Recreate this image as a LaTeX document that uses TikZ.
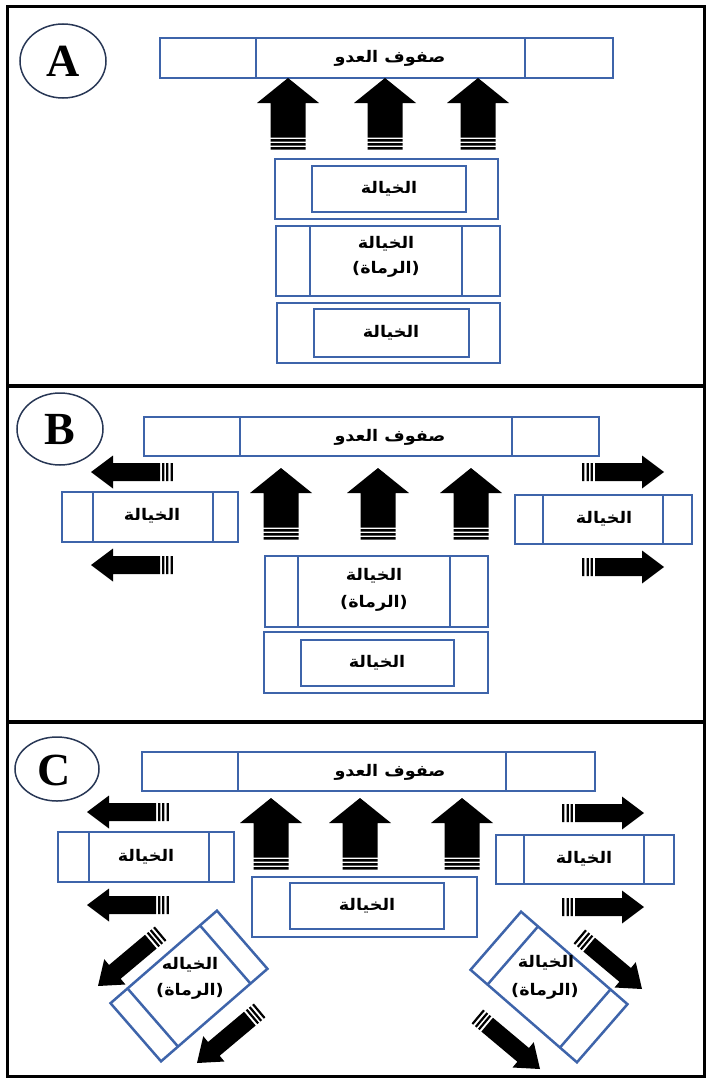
\documentclass[tikz,border=0pt]{standalone}
\usepackage{fontspec}
\newfontfamily\arabicfont[Script=Arabic,FakeStretch=1.1]{DejaVu Sans}
\newfontfamily\letterfont{Liberation Serif}
\TeXXeTstate=1
\definecolor{boxblue}{RGB}{62,100,170}
\definecolor{ringblue}{RGB}{40,55,85}
\newcommand{\artext}[1]{\beginR #1\endR}

\begin{document}
\begin{tikzpicture}[x=1pt,y=-1pt]

\tikzset{boxline/.style={draw=boxblue,line width=2.5pt},
unitbox/.style={boxline,fill=white},
armytext/.style={font=\arabicfont\bfseries\fontsize{16}{19}\selectfont,text=black,align=center,inner sep=0pt},
panelletter/.style={font=\letterfont\bfseries\fontsize{46}{46}\selectfont,inner sep=0pt},
%tip of the arrow sits at the origin, it points along +x
bigarr/.pic={
\fill (0,0) -- (-25,31) -- (-25,17.5) -- (-59.5,17.5) -- (-59.5,-17.5) -- (-25,-17.5) -- (-25,-31) -- cycle;
\fill (-61,-17.5) rectangle (-63.5,17.5) (-65,-17.5) rectangle (-67.5,17.5) (-69,-17.5) rectangle (-71.5,17.5);
},
smallarr/.pic={
\fill (0,0) -- (-22,16.5) -- (-22,9) -- (-69,9) -- (-69,-9) -- (-22,-9) -- (-22,-16.5) -- cycle;
\fill (-71.2,-9) rectangle (-73.4,9) (-75.2,-9) rectangle (-77.4,9) (-79.6,-9) rectangle (-81.8,9);
}}

\useasboundingbox (0,0) rectangle (707,1081);

% frame and panel borders
\draw [line width=3pt] (7,7) rectangle (704,1076);
\draw [line width=4pt] (7,386) -- (704,386);
\draw [line width=4pt] (7,722) -- (704,722);

%%%%% A
\draw [ringblue,line width=1.5pt] (63,61) ellipse [x radius=43, y radius=37];
\node [panelletter] (letA) at (63,61) {A};

\draw [unitbox] (160,38) rectangle (613,78);
\draw [boxline] (256,38) -- (256,78) (525,38) -- (525,78);
\node [armytext] (enemyA) at (390,58) {\artext{صفوف العدو}};

\pic [rotate=90] at (288,78) {bigarr};
\pic [rotate=90] at (385,78) {bigarr};
\pic [rotate=90] at (478,78) {bigarr};

\draw [unitbox] (275,159) rectangle (498,219);
\draw [boxline] (312,166) rectangle (466,212);
\node [armytext] (cavA1) at (389,189) {\artext{الخيالة}};

\draw [unitbox] (276,226) rectangle (500,296);
\draw [boxline] (310,226) -- (310,296) (462,226) -- (462,296);
\node [armytext] (cavA2) at (386,244) {\artext{الخيالة}};
\node [armytext] (archA) at (386,269) {\artext{(الرماة)}};

\draw [unitbox] (277,303) rectangle (500,363);
\draw [boxline] (314,309) rectangle (469,357);
\node [armytext] (cavA3) at (391,333) {\artext{الخيالة}};

%%%%% B
\draw [ringblue,line width=1.5pt] (60,429) ellipse [x radius=43, y radius=36];
\node [panelletter] (letB) at (60,430) {B};

\draw [unitbox] (144,417) rectangle (599,456);
\draw [boxline] (240,417) -- (240,456) (512,417) -- (512,456);
\node [armytext] (enemyB) at (390,437) {\artext{صفوف العدو}};

\pic [rotate=180] at (91,472) {smallarr};
\pic [rotate=180] at (91,565) {smallarr};
\pic at (664,472) {smallarr};
\pic at (664,567) {smallarr};

\pic [rotate=90] at (281,468) {bigarr};
\pic [rotate=90] at (378,468) {bigarr};
\pic [rotate=90] at (471,468) {bigarr};

\draw [unitbox] (62,492) rectangle (238,542);
\draw [boxline] (93,492) -- (93,542) (213,492) -- (213,542);
\node [armytext] (cavBl) at (152,516) {\artext{الخيالة}};

\draw [unitbox] (515,495) rectangle (692,544);
\draw [boxline] (543,495) -- (543,544) (663,495) -- (663,544);
\node [armytext] (cavBr) at (604,519) {\artext{الخيالة}};

\draw [unitbox] (265,556) rectangle (488,627);
\draw [boxline] (298,556) -- (298,627) (450,556) -- (450,627);
\node [armytext] (cavB2) at (374,576) {\artext{الخيالة}};
\node [armytext] (archB) at (374,603) {\artext{(الرماة)}};

\draw [unitbox] (264,632) rectangle (488,693);
\draw [boxline] (301,640) rectangle (454,686);
\node [armytext] (cavB3) at (377,663) {\artext{الخيالة}};

%%%%% C
\draw [ringblue,line width=1.5pt] (57,769) ellipse [x radius=42, y radius=32];
\node [panelletter] (letC) at (54,770) {C};

\draw [unitbox] (142,752) rectangle (595,791);
\draw [boxline] (238,752) -- (238,791) (506,752) -- (506,791);
\node [armytext] (enemyC) at (390,772) {\artext{صفوف العدو}};

\pic [rotate=180] at (87,812) {smallarr};
\pic [rotate=180] at (87,905) {smallarr};
\pic at (644,813) {smallarr};
\pic at (644,907) {smallarr};

\pic [rotate=90] at (271,798) {bigarr};
\pic [rotate=90] at (360,798) {bigarr};
\pic [rotate=90] at (462,798) {bigarr};

\draw [unitbox] (58,832) rectangle (234,882);
\draw [boxline] (89,832) -- (89,882) (209,832) -- (209,882);
\node [armytext] (cavCl) at (146,857) {\artext{الخيالة}};

\draw [unitbox] (496,835) rectangle (674,884);
\draw [boxline] (524,835) -- (524,884) (644,835) -- (644,884);
\node [armytext] (cavCr) at (584,859) {\artext{الخيالة}};

\draw [unitbox] (252,877) rectangle (477,937);
\draw [boxline] (290,883) rectangle (444,929);
\node [armytext] (cavC2) at (367,906) {\artext{الخيالة}};

% wings turning outwards
\pic [rotate=220] at (98,986) {smallarr};
\pic [rotate=220] at (197,1063) {smallarr};
\pic [rotate=-40] at (642,989) {smallarr};
\pic [rotate=-40] at (540,1069) {smallarr};

\begin{scope}[shift={(189,986)},rotate=41]
\draw [unitbox] (-70.5,-38.5) rectangle (70.5,38.5);
\draw [boxline] (-48,-38.5) -- (-48,38.5) (48,-38.5) -- (48,38.5);
\end{scope}
\node [armytext] (cavCw) at (190,965) {\artext{الخياله}};
\node [armytext] (archCw) at (190,991) {\artext{(الرماة)}};

\begin{scope}[shift={(549,987)},rotate=-41]
\draw [unitbox] (-70.5,-38.5) rectangle (70.5,38.5);
\draw [boxline] (-48,-38.5) -- (-48,38.5) (48,-38.5) -- (48,38.5);
\end{scope}
\node [armytext] (cavCe) at (546,963) {\artext{الخيالة}};
\node [armytext] (archCe) at (545,991) {\artext{(الرماة)}};

\end{tikzpicture}
\end{document}
